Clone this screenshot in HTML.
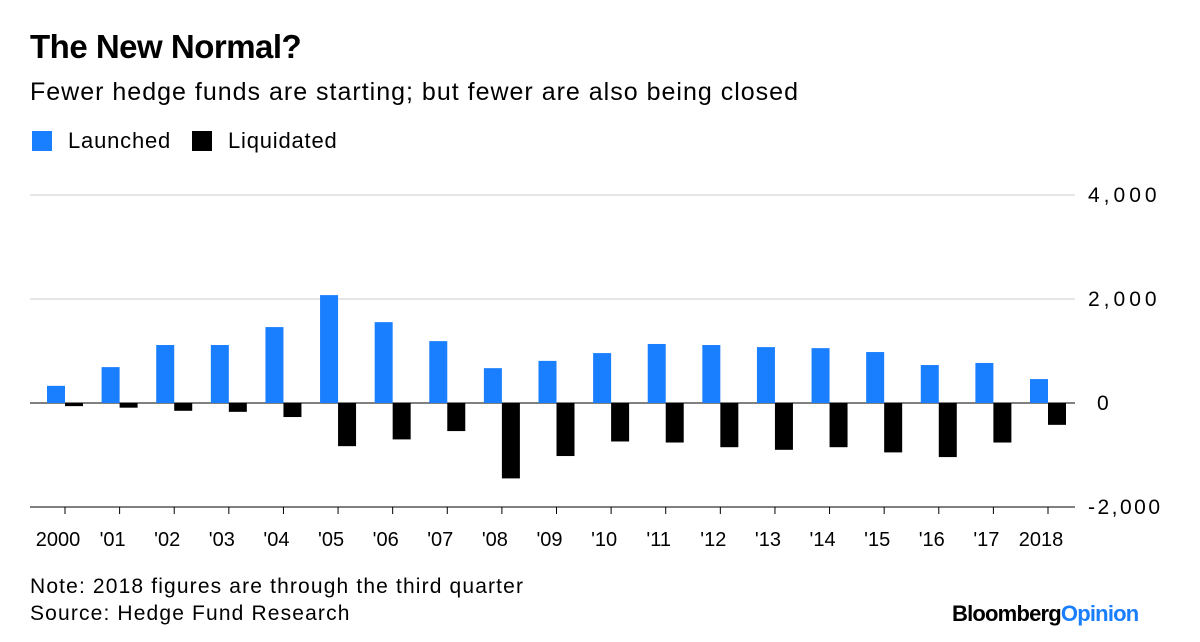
<!DOCTYPE html>
<html><head><meta charset="utf-8"><style>
body{margin:0;background:#fff;font-family:"Liberation Sans",sans-serif;}
#wrap{position:relative;width:1200px;height:642px;overflow:hidden}
.t{position:absolute;white-space:nowrap;color:#000}
</style></head><body><div id="wrap">
<div class="t" style="left:30px;top:28px;font-size:33px;font-weight:bold;letter-spacing:-0.5px">The New Normal?</div>
<div class="t" style="left:30px;top:78px;font-size:25px;letter-spacing:1px">Fewer hedge funds are starting; but fewer are also being closed</div>
<div class="t" style="left:32px;top:128px;font-size:22px;letter-spacing:0.8px"><span style="display:inline-block;width:20px;height:20px;background:#1a7fff;vertical-align:-3px;margin-right:16px"></span>Launched</div>
<div class="t" style="left:192px;top:128px;font-size:22px;letter-spacing:0.8px"><span style="display:inline-block;width:20px;height:20px;background:#000;vertical-align:-3px;margin-right:16px"></span>Liquidated</div>
<svg id="chart" width="1200" height="642" style="position:absolute;left:0;top:0"></svg>
<div class="t" style="left:30px;top:575px;font-size:21px;letter-spacing:1.15px">Note: 2018 figures are through the third quarter</div>
<div class="t" style="left:30px;top:602px;font-size:21px;letter-spacing:1.15px">Source: Hedge Fund Research</div>
<div class="t" style="left:952px;top:601px;font-size:22px;font-weight:bold;letter-spacing:-0.8px">Bloomberg<span style="color:#1a7fff">Opinion</span></div>
</div>
<script>
const categories=["2000","'01","'02","'03","'04","'05","'06","'07","'08","'09","'10","'11","'12","'13","'14","'15","'16","'17","2018"];
const launched=[330,690,1115,1115,1460,2075,1555,1190,670,810,960,1135,1115,1075,1055,980,730,770,460];
const liquidated=[-60,-90,-150,-170,-270,-830,-700,-540,-1450,-1020,-740,-760,-850,-900,-850,-950,-1040,-760,-420];
const yTicks=[4000,2000,0,-2000];
const yTickLabels=["4,000","2,000","0","-2,000"];
const svg=document.getElementById('chart');const NS='http://www.w3.org/2000/svg';
function y(v){return 403-v*0.052;}
function x(i){return 65+i*(1048-65)/(categories.length-1);}
function mk(tag,a){const e=document.createElementNS(NS,tag);for(const k in a)e.setAttribute(k,a[k]);svg.appendChild(e);return e;}
yTicks.forEach((v,i)=>{
 const l=mk('line',{x1:30,x2:1075,y1:y(v),y2:y(v),stroke:v===0?'#000':(v===-2000?'#000':'#e6e6e6'),'stroke-width':v===0||v===-2000?1:2});
 
 
 const t=mk('text',{x:v===0?1097:1088,y:y(v)+7,'text-anchor':'start','font-size':21,'letter-spacing':v===-2000?2.5:4,'font-family':'Liberation Sans'});
 t.textContent=yTickLabels[i];
 
 
});
categories.forEach((c,i)=>{
 const cx=x(i);
 const b=mk('rect',{x:cx-18,y:y(launched[i]),width:18,height:y(0)-y(launched[i]),fill:'#1a7fff'});
 
 
 const k=mk('rect',{x:cx,y:y(0),width:18,height:y(liquidated[i])-y(0),fill:'#000'});
 
 
 const tk=mk('line',{x1:cx,x2:cx,y1:507,y2:514,stroke:'#000'});
 
 
 const t=mk('text',{x:cx-7,y:546,'text-anchor':'middle','font-size':20,'font-family':'Liberation Sans'});
 t.textContent=c;
 
 
});
</script></body></html>
